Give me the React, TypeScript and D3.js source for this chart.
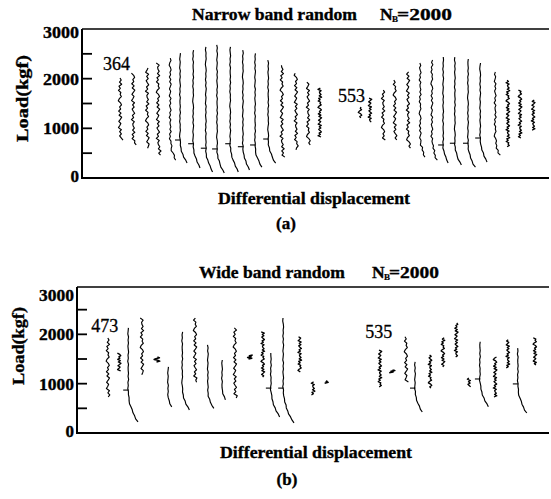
import React from 'react';
import * as d3 from 'd3';

// ---------- DATA ----------
const loadTicks = [0, 500, 1000, 1500, 2000, 2500, 3000];
const loadTickLabels = [0, 1000, 2000, 3000];

// (a) Narrow band random: cycle position (differential displacement, arbitrary units), peak & valley load, knee mark load, trace kind
const narrowPos = [8.1, 10.9, 13.9, 16.2, 18.8, 20.9, 23.7, 26.4, 28.8, 31.6, 34.3, 36.9, 39.7, 42.6, 45.6, 48.2, 50.7, 59.3, 61.4, 64.2, 66.7, 69.5, 72.1, 74.6, 77.0, 79.5, 82.3, 84.9, 88.1, 90.8, 93.4, 96.2];
const narrowMax = [2013, 2110, 2215, 2315, 2415, 2515, 2575, 2640, 2680, 2640, 2575, 2510, 2375, 2270, 2110, 1930, 1810, 1430, 1610, 1770, 1970, 2135, 2315, 2375, 2435, 2435, 2395, 2315, 2135, 1970, 1770, 1570];
const narrowMin = [765, 665, 600, 460, 360, 300, 200, 120, 100, 120, 160, 220, 300, 420, 565, 665, 825, 1210, 1125, 765, 765, 600, 420, 360, 300, 260, 220, 320, 460, 630, 805, 965];
const narrowMark: (number | null)[] = [null, null, null, null, null, 765, 690, 600, 585, 690, 630, 665, 785, null, null, null, null, null, null, null, null, null, null, null, 665, 700, 700, 805, null, null, null, null];
const narrowKind = ['W', 'W', 'W', 'W', 'L', 'S', 'S', 'S', 'S', 'S', 'S', 'S', 'S', 'W', 'W', 'W', 'D', 'D', 'D', 'W', 'W', 'W', 'L', 'L', 'S', 'S', 'S', 'S', 'L', 'D', 'D', 'D'];
const narrowNotes = [{ label: '364', pos: 4.5, load: 2180 }, { label: '553', pos: 54.6, load: 1530 }];

// (b) Wide band random
const widePos = [6.5, 8.9, 10.8, 13.7, 16.9, 19.2, 22.2, 24.9, 27.6, 30.6, 33.3, 36.5, 39.2, 40.9, 43.5, 47.0, 49.8, 52.5, 63.9, 66.5, 69.4, 71.3, 74.5, 77.2, 80.0, 82.7, 85.0, 88.2, 90.9, 93.0, 96.6];
const wideMax = [1925, 1620, 2130, 2330, 1540, 1340, 2050, 2330, 1785, 1480, 2130, 1580, 2050, 1620, 2330, 1950, 1035, 1060, 1680, 1280, 1950, 1440, 1580, 1930, 2230, 1115, 1850, 1540, 1890, 1720, 1930];
const wideMin = [730, 1260, 225, 1180, 1440, 530, 465, 1030, 500, 670, 710, 1500, 1135, 325, 205, 1240, 770, 1010, 935, 1220, 1035, 425, 910, 1340, 1540, 935, 530, 730, 1320, 405, 1380];
const wideMark: (number | null)[] = [null, null, 870, null, null, null, null, null, null, null, null, null, null, 910, 910, null, null, null, null, null, null, 910, null, null, null, null, 1095, null, null, 995, null];
const wideKind = ['W', 'D', 'S', 'W', 'B', 'S', 'S', 'W', 'S', 'S', 'W', 'B', 'D', 'S', 'S', 'D', 'D', 'B', 'D', 'B', 'W', 'S', 'D', 'D', 'D', 'D', 'S', 'D', 'D', 'S', 'D'];
const wideNotes = [{ label: '473', pos: 3.0, load: 2050 }, { label: '535', pos: 60.8, load: 1930 }];

// hand-drawn texture of the recorder pen (unit offsets)
const WIGGLE = [0, 0.7, -0.3, 1.0, -0.6, 0.2, -0.9, 0.5, 0.1, 0.8, -0.4, -1.0, 0.3, 0.9, -0.2, 0.4, -0.8, 0.6, -0.5, 1.0, 0.2, -0.7, 0.5, -0.1, -0.9, 0.8, -0.3, 0.6, -0.6, 0.1, 0.9, -0.4, 0.3, -1.0, 0.7, -0.2];

// ---------- STYLE ----------
const FONT = '"Liberation Serif", "Times New Roman", serif';
const KIND_STYLE: Record<string, { amp: number; step: number; knee: number; tail: number; w: number }> = {
  W: { amp: 1.7, step: 2.1, knee: 0.2, tail: 0.12, w: 1.15 },
  L: { amp: 1.0, step: 2.4, knee: 0.25, tail: 0.2, w: 1.1 },
  S: { amp: 0.45, step: 3, knee: 0.3, tail: 0.3, w: 1.15 },
  D: { amp: 1.8, step: 1.3, knee: 0, tail: 0, w: 1.3 },
  B: { amp: 3.0, step: 0.8, knee: 0, tail: 0, w: 1.5 },
};
const BOLD = { fontFamily: FONT, fontWeight: 'bold' as const, stroke: '#000', strokeWidth: 0.35 };

type PanelCfg = {
  left: number; top: number; bottom: number; y3000: number; right: number;
  pos: number[]; max: number[]; min: number[]; mark: (number | null)[]; kind: string[];
  notes: { label: string; pos: number; load: number }[];
  title: string; titleX: number; titleW: number; titleY: number;
  nbX: number; nbW: number; xLabY: number; xLabX: number; capY: number; capX: number; cap: string;
  yTitleX: number; yTitleY: number; yTitleW: number; topNudge: number; labW: number;
};

const panels: PanelCfg[] = [
  {
    left: 82, top: 29, bottom: 178, y3000: 29, right: 549,
    pos: narrowPos, max: narrowMax, min: narrowMin, mark: narrowMark, kind: narrowKind, notes: narrowNotes,
    title: 'Narrow band random', titleX: 192, titleW: 165, titleY: 19.5,
    nbX: 380, nbW: 55, xLabY: 203.5, xLabX: 218, capY: 229, capX: 286, cap: '(a)',
    yTitleX: 27.5, yTitleY: 98.5, yTitleW: 87, topNudge: 3, labW: 36,
  },
  {
    left: 77, top: 287, bottom: 433, y3000: 285, right: 549,
    pos: widePos, max: wideMax, min: wideMin, mark: wideMark, kind: wideKind, notes: wideNotes,
    title: 'Wide band random', titleX: 199, titleW: 146, titleY: 278,
    nbX: 372, nbW: 50, xLabY: 457.5, xLabX: 220, capY: 485, capX: 287, cap: '(b)',
    yTitleX: 23.5, yTitleY: 346, yTitleW: 78, topNudge: 10, labW: 35,
  },
];

function Panel({ p }: { p: PanelCfg }) {
  const x = d3.scaleLinear().domain([0, 100]).range([p.left, 551]);
  const y = d3.scaleLinear().domain([0, 3000]).range([p.bottom, p.y3000]);
  const line = d3.line();

  const traces = p.pos.map((pos, i) => {
    const st = KIND_STYLE[p.kind[i]];
    const x0 = x(pos);
    const yTop = y(p.max[i]);
    const yBot = y(p.min[i]);
    const kneeLoad = p.mark[i] ?? p.min[i] + st.knee * (p.max[i] - p.min[i]);
    const yKnee = y(kneeLoad);
    const tailPx = st.tail * (yBot - yKnee);
    const n = Math.max(2, Math.round((yBot - yTop) / st.step));
    const pts: [number, number][] = [];
    for (let k = 0; k <= n; k++) {
      const yy = yTop + ((yBot - yTop) * k) / n;
      let xx = x0 + WIGGLE[(k + i * 11) % WIGGLE.length] * st.amp;
      if (yy > yKnee && yBot > yKnee) {
        const t = (yy - yKnee) / (yBot - yKnee);
        xx += tailPx * t * t;
      }
      pts.push([xx, yy]);
    }
    return { d: line(pts) as string, w: st.w, x0, mark: p.mark[i] };
  });

  return (
    <g>
      {/* frame */}
      <line x1={p.left} x2={p.left} y1={p.top} y2={p.bottom + 1} stroke="#000" strokeWidth={2} />
      <line x1={p.left} x2={p.right} y1={p.top} y2={p.top} stroke="#000" strokeWidth={1.5} />
      <line x1={p.left} x2={p.right} y1={p.bottom} y2={p.bottom} stroke="#000" strokeWidth={2} />
      {loadTicks.filter((t) => t > 0 && t < 3000).map((t) => (
        <line key={t} x1={p.left} x2={p.left + 10} y1={y(t)} y2={y(t)} stroke="#000" strokeWidth={1.8} />
      ))}
      {loadTickLabels.map((t) => {
        const s = String(t);
        const nudge = t === 3000 ? p.topNudge : t === 0 ? -2 : 0;
        return (
          <text key={t} x={p.left - 3} y={y(t) + nudge} dy="0.35em" textAnchor="end" {...BOLD}
            fontSize={17} {...(s.length > 1 ? { textLength: p.labW, lengthAdjust: 'spacingAndGlyphs' } : {})}>{s}</text>
        );
      })}
      {/* y title */}
      <text transform={`translate(${p.yTitleX},${p.yTitleY}) rotate(-90)`} textAnchor="middle" {...BOLD}
        fontSize={17.5} textLength={p.yTitleW} lengthAdjust="spacingAndGlyphs">Load(kgf)</text>
      {/* title */}
      <text x={p.titleX} y={p.titleY} {...BOLD} fontSize={17.5} textLength={p.titleW} lengthAdjust="spacingAndGlyphs">{p.title}</text>
      <text x={p.nbX} y={p.titleY} {...BOLD} fontSize={17.5}>N</text>
      <text x={p.nbX + 12} y={p.titleY + 2} {...BOLD} strokeWidth={0.2} fontSize={9}>B</text>
      <text x={p.nbX + 17} y={p.titleY} {...BOLD} fontSize={17.5} textLength={p.nbW} lengthAdjust="spacingAndGlyphs">=2000</text>
      {/* x title & caption */}
      <text x={p.xLabX} y={p.xLabY} {...BOLD} fontSize={17.5} textLength={192} lengthAdjust="spacingAndGlyphs">Differential displacement</text>
      <text x={p.capX} y={p.capY} textAnchor="middle" {...BOLD} fontSize={17}>{p.cap}</text>
      {/* traces */}
      {traces.map((t, i) => (
        <g key={i}>
          <path d={t.d} fill="none" stroke="#000" strokeWidth={t.w} strokeLinejoin="round" />
          {t.mark != null && (
            <line x1={t.x0 - 5} x2={t.x0 + 0.5} y1={y(t.mark)} y2={y(t.mark)} stroke="#000" strokeWidth={1.1} />
          )}
        </g>
      ))}
      {p.notes.map((n) => (
        <text key={n.label} x={x(n.pos)} y={y(n.load)} fontFamily={FONT} fontSize={18} stroke="#000" strokeWidth={0.3}>{n.label}</text>
      ))}
    </g>
  );
}

export default function App() {
  return (
    <svg width={551} height={499} viewBox="0 0 551 499"
      style={{ position: 'absolute', left: 0, top: 0, background: '#fff' }}>
      <rect width={551} height={499} fill="#fff" />
      {panels.map((p, i) => <Panel key={i} p={p} />)}
    </svg>
  );
}
